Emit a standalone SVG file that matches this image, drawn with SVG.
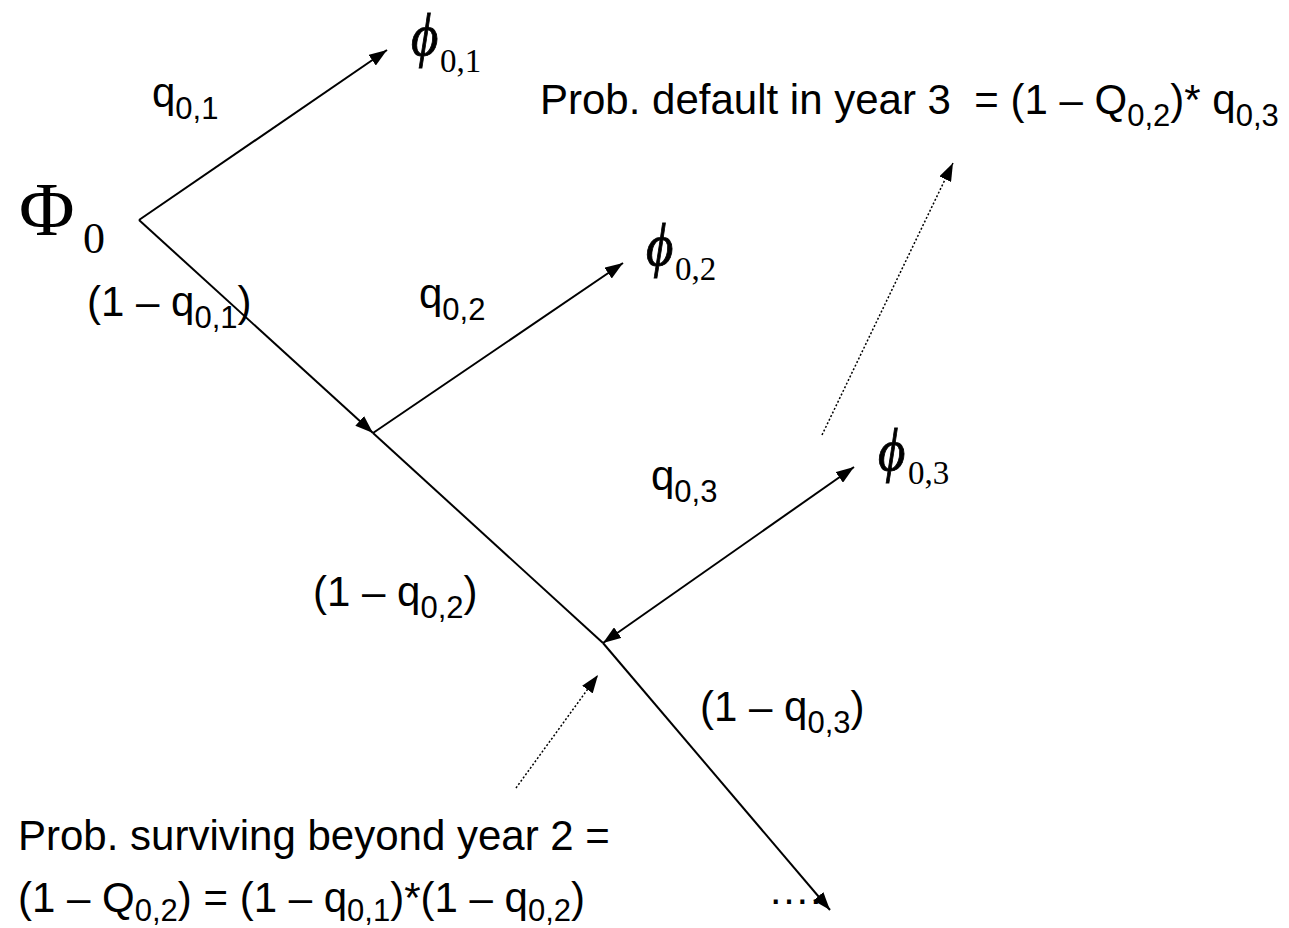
<svg xmlns="http://www.w3.org/2000/svg" width="1289" height="928" viewBox="0 0 1289 928">
<defs>
<marker id="ah" viewBox="0 0 18 13" refX="18" refY="6.5" markerWidth="18" markerHeight="13" markerUnits="userSpaceOnUse" orient="auto-start-reverse">
<path d="M0,0 L18,6.5 L0,13 z" fill="#000"/>
</marker>
<style>
.ln{stroke:#000;stroke-width:2;fill:none}
.dt{stroke:#000;stroke-width:1.5;fill:none;stroke-dasharray:2 2}
.t{font-family:"Liberation Sans",Arial,sans-serif;font-size:42px;fill:#000}
.s{font-size:31px}
.g{font-family:"Liberation Serif","Times New Roman",serif;fill:#000}
.phi{font-style:italic;font-size:60px;stroke:#000;stroke-width:0.9}
.gs{font-size:33px}
</style>
</defs>
<rect width="1289" height="928" fill="#fff"/>
<g id="connectors">
<line class="ln" x1="139" y1="220" x2="387" y2="50" marker-end="url(#ah)"/>
<line class="ln" x1="139" y1="220" x2="373" y2="433" marker-end="url(#ah)"/>
<line class="ln" x1="373" y1="433" x2="623" y2="263" marker-end="url(#ah)"/>
<line class="ln" x1="373" y1="433" x2="603" y2="643"/>
<line class="ln" x1="603" y1="643" x2="830" y2="910" marker-end="url(#ah)"/>
<line class="ln" x1="603" y1="643" x2="854" y2="467" marker-start="url(#ah)" marker-end="url(#ah)"/>
<line class="dt" x1="822" y1="435" x2="953" y2="163" marker-end="url(#ah)"/>
<line class="dt" x1="516" y1="788" x2="598" y2="675" marker-end="url(#ah)"/>
</g>
<g id="root"><text class="g" x="19" y="235" font-size="76">Φ</text><text class="g" x="83" y="253" font-size="44">0</text></g>
<g id="phi01"><text class="g phi" transform="translate(411,55) scale(0.88,1)">ϕ</text><text class="g gs" x="440" y="72">0,1</text></g>
<g id="phi02"><text class="g phi" transform="translate(646,265) scale(0.88,1)">ϕ</text><text class="g gs" x="675" y="280">0,2</text></g>
<g id="phi03"><text class="g phi" transform="translate(878,470) scale(0.88,1)">ϕ</text><text class="g gs" x="908" y="484">0,3</text></g>
<g id="lbl-q01"><text class="t" x="152" y="107">q<tspan class="s" dy="12">0,1</tspan></text></g>
<g id="lbl-q02"><text class="t" x="419" y="308">q<tspan class="s" dy="12">0,2</tspan></text></g>
<g id="lbl-q03"><text class="t" x="651" y="490">q<tspan class="s" dy="12">0,3</tspan></text></g>
<g id="lbl-s1"><text class="t" x="87" y="316">(1 – q<tspan class="s" dy="12">0,1</tspan><tspan dy="-12">)</tspan></text></g>
<g id="lbl-s2"><text class="t" x="313" y="606">(1 – q<tspan class="s" dy="12">0,2</tspan><tspan dy="-12">)</tspan></text></g>
<g id="lbl-s3"><text class="t" x="700" y="721">(1 – q<tspan class="s" dy="12">0,3</tspan><tspan dy="-12">)</tspan></text></g>
<g id="note-default"><text class="t" x="540" y="114" xml:space="preserve">Prob. default in year 3  = (1 – Q<tspan class="s" dy="12">0,2</tspan><tspan dy="-12">)* q</tspan><tspan class="s" dy="12">0,3</tspan></text></g>
<g id="note-survive"><text class="t" x="18" y="850">Prob. surviving beyond year 2 =</text><text class="t" x="18" y="912">(1 – Q<tspan class="s" dy="9">0,2</tspan><tspan dy="-9">) = (1 – q</tspan><tspan class="s" dy="9">0,1</tspan><tspan dy="-9">)*(1 – q</tspan><tspan class="s" dy="9">0,2</tspan><tspan dy="-9">)</tspan></text></g>
<g id="ellipsis"><text class="t" x="768" y="904">….</text></g>
</svg>
